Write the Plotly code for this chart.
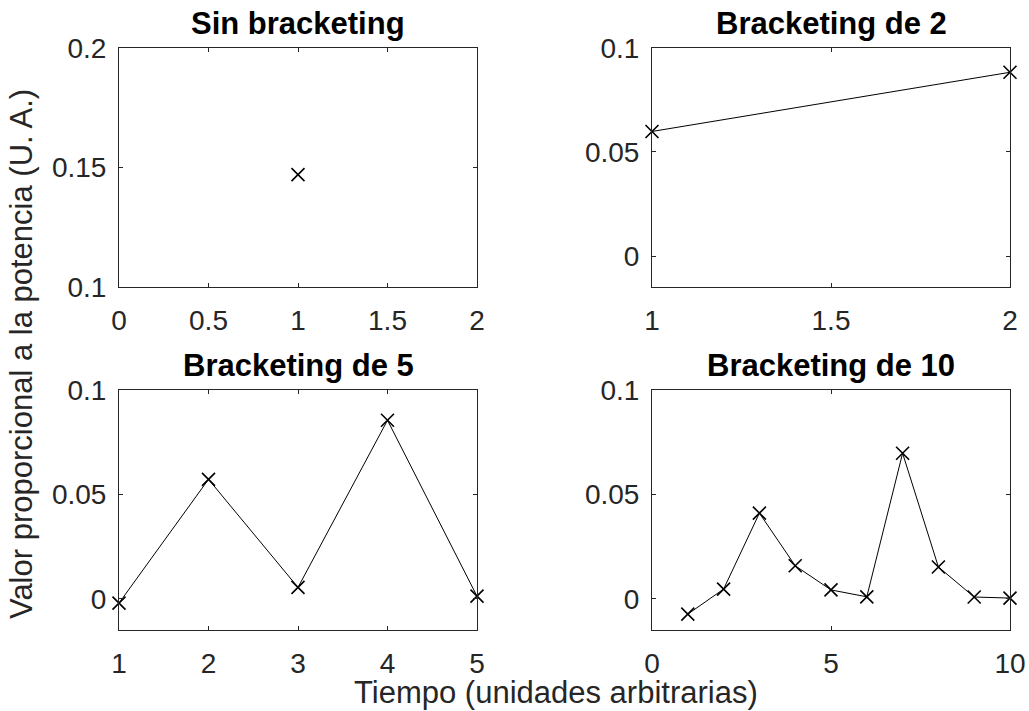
import plotly.graph_objects as go

# Datos de cada subgráfica
t_sin = [1]
p_sin = [0.147]

t_b2 = [1, 2]
p_b2 = [0.0598, 0.0882]

t_b5 = [1, 2, 3, 4, 5]
p_b5 = [-0.0021, 0.0572, 0.0054, 0.0855, 0.0012]

t_b10 = [1, 2, 3, 4, 5, 6, 7, 8, 9, 10]
p_b10 = [-0.0074, 0.0046, 0.0410, 0.0158, 0.0042, 0.0009, 0.0697, 0.0152, 0.0008, 0.0003]

titles = ["Sin bracketing", "Bracketing de 2", "Bracketing de 5", "Bracketing de 10"]

xticks_sin = [0, 0.5, 1, 1.5, 2]
xticklabels_sin = ["0", "0.5", "1", "1.5", "2"]
yticks_sin = [0.1, 0.15, 0.2]
yticklabels_sin = ["0.1", "0.15", "0.2"]

xticks_b2 = [1, 1.5, 2]
xticklabels_b2 = ["1", "1.5", "2"]
xticks_b5 = [1, 2, 3, 4, 5]
xticklabels_b5 = ["1", "2", "3", "4", "5"]
xticks_b10 = [0, 5, 10]
xticklabels_b10 = ["0", "5", "10"]
yticks_br = [0, 0.05, 0.1]
yticklabels_br = ["0", "0.05", "0.1"]

FONT = "Liberation Sans, Arial, Helvetica, sans-serif"
AX_COLOR = "#262626"
W, H = 1029, 711

# panel frames in pixels: (left, right, top, bottom)
frames = [
    (119, 477, 47.7, 287.3),
    (652, 1010, 47.7, 287.3),
    (119, 477, 390, 630),
    (652, 1010, 390, 630),
]

series = [
    (t_sin, p_sin, "markers"),
    (t_b2, p_b2, "lines+markers"),
    (t_b5, p_b5, "lines+markers"),
    (t_b10, p_b10, "lines+markers"),
]

axis_setup = [
    ([0, 2], xticks_sin, xticklabels_sin, [0.1, 0.2], yticks_sin, yticklabels_sin),
    ([1, 2], xticks_b2, xticklabels_b2, [-0.015, 0.1], yticks_br, yticklabels_br),
    ([1, 5], xticks_b5, xticklabels_b5, [-0.015, 0.1], yticks_br, yticklabels_br),
    ([0, 10], xticks_b10, xticklabels_b10, [-0.015, 0.1], yticks_br, yticklabels_br),
]

fig = go.Figure()
layout = dict(
    width=W, height=H,
    margin=dict(l=0, r=0, t=0, b=0, pad=0, autoexpand=False),
    paper_bgcolor="white", plot_bgcolor="white",
    showlegend=False,
    font=dict(family=FONT, size=28, color=AX_COLOR),
    annotations=[],
)

for i, ((xs, ys, mode), (xr, xt, xtl, yr, yt, ytl), (l, r, t, b)) in enumerate(
        zip(series, axis_setup, frames)):
    n = "" if i == 0 else str(i + 1)
    fig.add_trace(go.Scatter(
        x=xs, y=ys, mode=mode, xaxis="x" + n, yaxis="y" + n,
        line=dict(color="black", width=1),
        marker=dict(symbol="x-thin", size=13, line=dict(color="black", width=1.6)),
        cliponaxis=False,
    ))
    common = dict(
        showline=True, linecolor=AX_COLOR, linewidth=1, mirror="ticks",
        ticks="inside", ticklen=4, tickwidth=1, tickcolor=AX_COLOR,
        showgrid=False, zeroline=False, fixedrange=True, automargin=False,
        tickfont=dict(family=FONT, size=28, color=AX_COLOR),
    )
    layout["xaxis" + n] = dict(
        common, domain=[l / W, r / W], range=xr, tickvals=xt, ticktext=xtl,
        anchor="y" + n, ticklabelstandoff=8,
    )
    layout["yaxis" + n] = dict(
        common, domain=[1 - b / H, 1 - t / H], range=yr, tickvals=yt, ticktext=ytl,
        anchor="x" + n, ticklabelstandoff=6,
    )
    layout["annotations"].append(dict(
        text="<b>" + titles[i] + "</b>", xref="paper", yref="paper",
        x=(l + r) / 2 / W, y=1 - (t - 5) / H, xanchor="center", yanchor="bottom",
        showarrow=False, font=dict(family=FONT, size=31, color="black"),
    ))

layout["annotations"].append(dict(
    text="Tiempo (unidades arbitrarias)", xref="paper", yref="paper",
    x=556 / W, y=1 - 692 / H, xanchor="center", yanchor="middle",
    showarrow=False, font=dict(family=FONT, size=31, color=AX_COLOR),
))
layout["annotations"].append(dict(
    text="Valor proporcional a la potencia (U. A.)", xref="paper", yref="paper",
    x=21 / W, y=1 - 354 / H, xanchor="center", yanchor="middle", textangle=-90,
    showarrow=False, font=dict(family=FONT, size=31, color=AX_COLOR),
))

fig.update_layout(**layout)
fig.write_html("out.html")
